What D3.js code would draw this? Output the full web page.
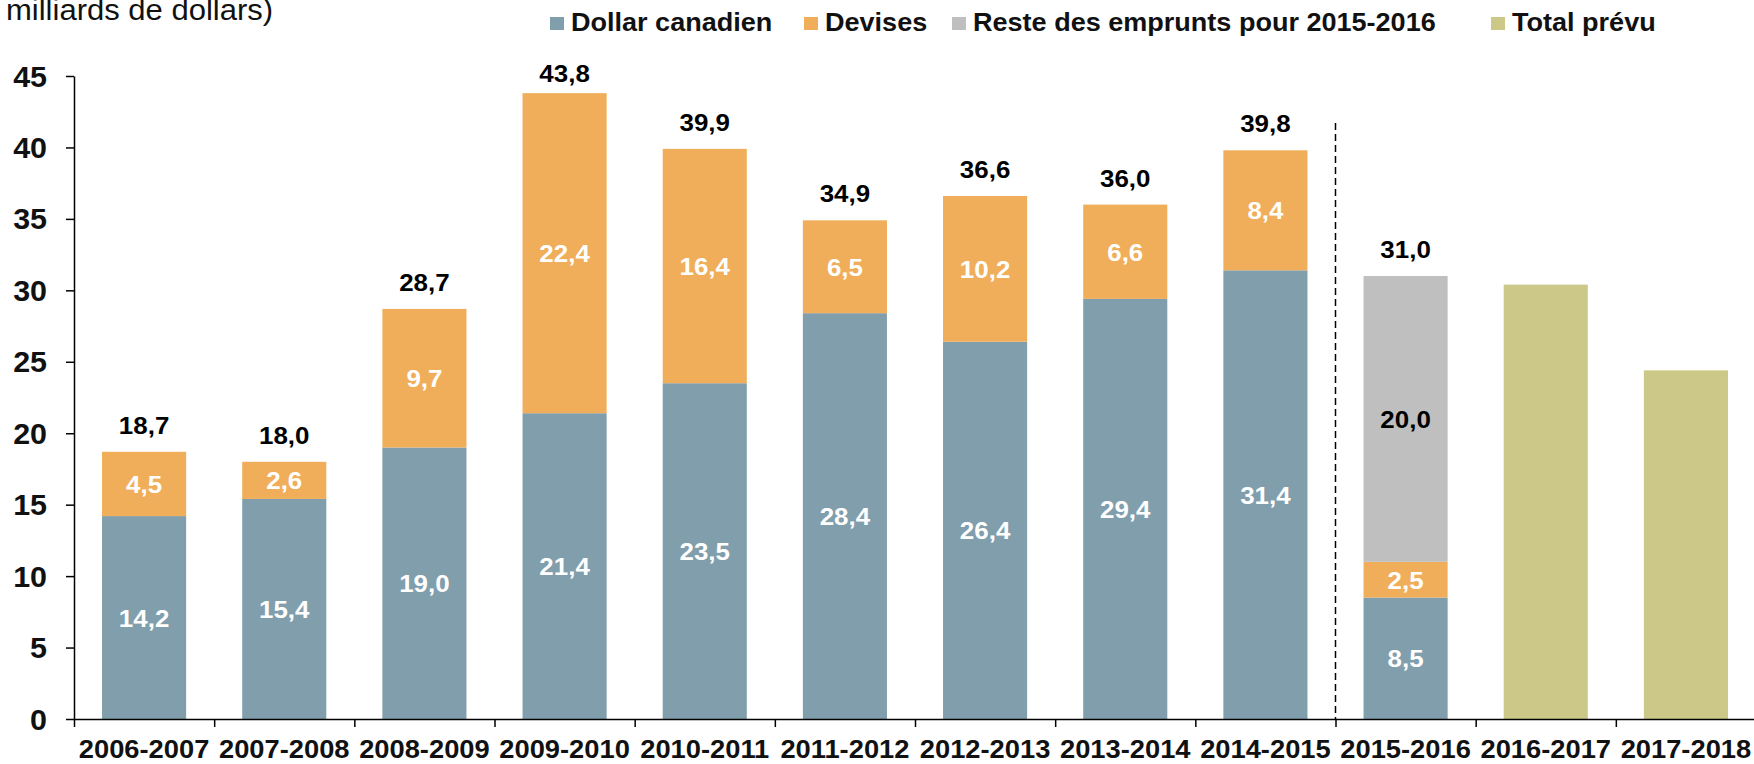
<!DOCTYPE html>
<html>
<head>
<meta charset="utf-8">
<script src="https://cdn.jsdelivr.net/npm/d3@7"></script>
<style>
  body { margin: 0; background: #fff; }
  text { font-family: "Liberation Sans", Arial, sans-serif; }
</style>
</head>
<body>
<svg id="chart" width="1754" height="764"></svg>
<script>
// years on the x axis
var years = ["2006-2007", "2007-2008", "2008-2009", "2009-2010", "2010-2011", "2011-2012",
             "2012-2013", "2013-2014", "2014-2015", "2015-2016", "2016-2017", "2017-2018"];
// borrowings, milliards de dollars
var dollarCanadien = [14.2, 15.4, 19.0, 21.4, 23.5, 28.4, 26.4, 29.4, 31.4, 8.5, null, null];
var devises        = [4.5, 2.6, 9.7, 22.4, 16.4, 6.5, 10.2, 6.6, 8.4, 2.5, null, null];
var reste          = [null, null, null, null, null, null, null, null, null, 20.0, null, null];
var totalPrevu     = [null, null, null, null, null, null, null, null, null, null, 30.4, 24.4];
var totals         = [18.7, 18.0, 28.7, 43.8, 39.9, 34.9, 36.6, 36.0, 39.8, 31.0, null, null];
var yTicks = [0, 5, 10, 15, 20, 25, 30, 35, 40, 45];

var seriesNames = ["Dollar canadien", "Devises", "Reste des emprunts pour 2015-2016", "Total prévu"];
var colors = ["#809EAC", "#F0AE5A", "#BFBFBF", "#CCC887"];

var fmt = function(v) { return d3.format(".1f")(v).replace(".", ","); };

var svg = d3.select("#chart");
var plotLeft = 74, plotRight = 1756, plotTop = 76, plotBottom = 719;

var x = d3.scaleBand().domain(years).range([plotLeft, plotRight]).paddingInner(0.4).paddingOuter(0.2);
var xEdge = d3.scaleLinear().domain([0, years.length]).range([plotLeft, plotRight]);
var y = d3.scaleLinear().domain([0, 45]).range([plotBottom, plotTop]);

// text is a touch wider than the font, so scale it horizontally
function label(g, px, py, txt, size, weight, fill, anchor, sx) {
  return g.append("text")
    .attr("transform", "translate(" + px + "," + py + ") scale(" + (sx || 1) + ",1)")
    .attr("text-anchor", anchor || "middle")
    .attr("font-size", size)
    .attr("font-weight", weight)
    .attr("fill", fill)
    .text(txt);
}

// unit note, cut at the top
label(svg, 6, 20, "milliards de dollars)", 29, "normal", "#111", "start", 1.07);

// stacked segments
var stacks = [dollarCanadien, devises, reste, totalPrevu];
var bars = svg.append("g");
years.forEach(function(yr, i) {
  var base = 0;
  stacks.forEach(function(s, k) {
    var v = s[i];
    if (v == null) return;
    bars.append("rect")
      .attr("x", x(yr))
      .attr("width", x.bandwidth())
      .attr("y", y(base + v))
      .attr("height", y(base) - y(base + v))
      .attr("fill", colors[k]);
    if (k < 3) {
      var mid = (y(base) + y(base + v)) / 2;
      label(bars, x(yr) + x.bandwidth() / 2, mid + 9, fmt(v), 24, "bold", k == 2 ? "#000" : "#fff", "middle", 1.08);
    }
    base += v;
  });
  if (totals[i] != null) {
    // labels are kept inside the plot area, so the tallest one sits lower
    var ly = Math.max(y(totals[i]) - 18, plotTop + 6);
    label(bars, x(yr) + x.bandwidth() / 2, ly, fmt(totals[i]), 24, "bold", "#000", "middle", 1.08);
  }
});

// dashed separator between actual and planned
svg.append("line")
  .attr("x1", xEdge(9)).attr("x2", xEdge(9))
  .attr("y1", 123).attr("y2", plotBottom)
  .attr("stroke", "#000").attr("stroke-width", 1.5)
  .attr("stroke-dasharray", "7,4");

// y axis
var yAxis = svg.append("g")
  .attr("transform", "translate(" + plotLeft + ",0)")
  .call(d3.axisLeft(y).tickValues(yTicks).tickSize(8).tickPadding(0).tickSizeOuter(0));
yAxis.select(".domain").attr("stroke", "#000").attr("stroke-width", 1.5);
yAxis.selectAll(".tick line").attr("stroke", "#000").attr("stroke-width", 1.5);
yAxis.selectAll(".tick text")
  .attr("x", null).attr("dy", null)
  .attr("transform", "translate(-27,10) scale(1.05,1)")
  .attr("font-size", 29).attr("font-weight", "bold").attr("fill", "#111")
  .attr("font-family", "Liberation Sans, Arial, sans-serif");

// x axis: boundary ticks
var xTicks = svg.append("g")
  .attr("transform", "translate(0," + plotBottom + ")")
  .call(d3.axisBottom(xEdge).tickValues(d3.range(0, years.length + 1)).tickFormat("").tickSize(8).tickSizeOuter(0));
xTicks.select(".domain").attr("stroke", "#000").attr("stroke-width", 1.5);
xTicks.selectAll(".tick line").attr("stroke", "#000").attr("stroke-width", 1.5);

// x axis: labels
var xLabels = svg.append("g")
  .attr("transform", "translate(0," + plotBottom + ")")
  .call(d3.axisBottom(x).tickSize(0).tickPadding(0));
xLabels.select(".domain").remove();
xLabels.selectAll(".tick text")
  .attr("y", null).attr("dy", null)
  .attr("transform", "translate(0,39) scale(1.05,1)")
  .attr("font-size", 26).attr("font-weight", "bold").attr("fill", "#111")
  .attr("font-family", "Liberation Sans, Arial, sans-serif");

// legend
var legendX = [550, 804, 952, 1491];
var legend = svg.append("g");
seriesNames.forEach(function(name, k) {
  legend.append("rect")
    .attr("x", legendX[k]).attr("y", 17)
    .attr("width", 14).attr("height", 13)
    .attr("fill", colors[k]);
  label(legend, legendX[k] + 21, 31, name, 26, "bold", "#111", "start", 1.04);
});
</script>
</body>
</html>
